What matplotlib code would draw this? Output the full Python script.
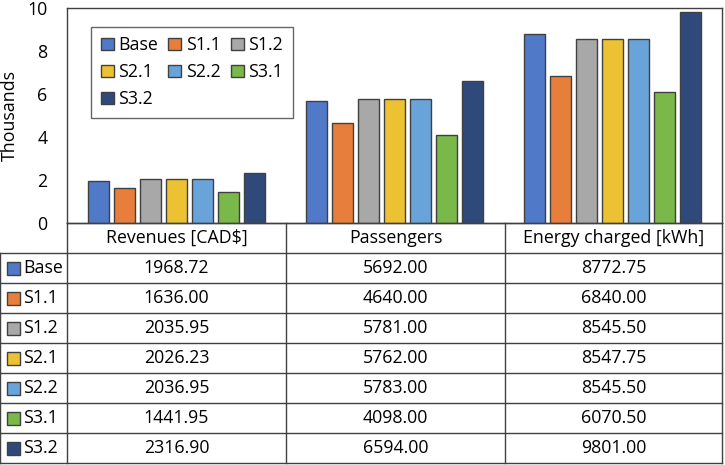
import numpy as np
import matplotlib.pyplot as plt
from matplotlib.patches import Patch, Rectangle

plt.rcParams['font.family'] = ['Open Sans', 'DejaVu Sans']

# Data
metrics = ['Revenues [CAD$]', 'Passengers', 'Energy charged [kWh]']
scenarios = ['Base', 'S1.1', 'S1.2', 'S2.1', 'S2.2', 'S3.1', 'S3.2']
revenues = [1968.72, 1636.00, 2035.95, 2026.23, 2036.95, 1441.95, 2316.90]
passengers = [5692.00, 4640.00, 5781.00, 5762.00, 5783.00, 4098.00, 6594.00]
energy = [8772.75, 6840.00, 8545.50, 8547.75, 8545.50, 6070.50, 9801.00]
colors = ['#5079c8', '#e87e3b', '#a8a8a8', '#ecc233', '#68a4da', '#7ab84a', '#2f4a7a']

values = np.array([revenues, passengers, energy]).T  # scenario x metric
edge = '#404040'
fs = 12.8

W, H = 725, 465
fig = plt.figure(figsize=(W / 100, H / 100), dpi=100)

# Chart area (pixel layout)
left, right, top, bottom = 67, 722, 8, 223
ax = fig.add_axes([left / W, 1 - bottom / H, (right - left) / W, (bottom - top) / H])
x = np.arange(len(metrics)) + 0.5
pitch, width = 0.119, 0.096
for i, s in enumerate(scenarios):
    ax.bar(x + (i - 3) * pitch, values[i] / 1000, width, color=colors[i],
           edgecolor=edge, linewidth=1, label=s, zorder=3)
ax.set_xlim(0, 3)
ax.set_ylim(0, 10)
ax.set_yticks(range(0, 11, 2))
ax.set_xticks([])
ax.tick_params(axis='y', length=0, labelsize=fs, pad=14)
for sp in ax.spines.values():
    sp.set_color(edge)
    sp.set_linewidth(1)
ax.set_ylabel('Thousands', fontsize=fs, labelpad=6)

# legend filled row by row like the original (matplotlib fills columns)
order = [0, 3, 6, 1, 4, 2, 5]
handles = [Patch(facecolor=colors[k], edgecolor=edge, linewidth=1) for k in order]
labels = [scenarios[k] for k in order]
leg = ax.legend(handles, labels, ncol=3, loc='upper left',
                bbox_to_anchor=(0.023, 0.955), fontsize=fs, frameon=True,
                fancybox=False, edgecolor=edge, handlelength=0.72,
                handleheight=0.72, handletextpad=0.25, columnspacing=0.6,
                borderpad=0.55, labelspacing=0.5)
leg.get_frame().set_linewidth(1)

# Data table below the chart
tab = fig.add_axes([0, 0, 1, 1])
tab.set_xlim(0, W)
tab.set_ylim(H, 0)
tab.axis('off')
cols = [0, 67, 286, 505, 722]
row_h = 30
y0 = bottom
n_rows = len(scenarios)
y_end = y0 + row_h * (n_rows + 1)
lw = 1
tab.plot([cols[1], cols[-1]], [y0, y0], color=edge, lw=lw)
for r in range(1, n_rows + 2):
    yy = y0 + r * row_h
    tab.plot([cols[0], cols[-1]], [yy, yy], color=edge, lw=lw)
tab.plot([cols[0], cols[0]], [y0 + row_h, y_end], color=edge, lw=lw)
for c in cols[1:]:
    tab.plot([c, c], [y0, y_end], color=edge, lw=lw)

for j, m in enumerate(metrics):
    cx = (cols[j + 1] + cols[j + 2]) / 2
    tab.text(cx, y0 + row_h / 2, m, ha='center', va='center', fontsize=fs)
for i, s in enumerate(scenarios):
    cy = y0 + (i + 1.5) * row_h
    tab.add_patch(Rectangle((7, cy - 6.5), 13, 13, facecolor=colors[i],
                            edgecolor=edge, lw=1))
    tab.text(23, cy, s, ha='left', va='center', fontsize=fs)
    for j in range(len(metrics)):
        cx = (cols[j + 1] + cols[j + 2]) / 2
        tab.text(cx, cy, f'{values[i, j]:.2f}', ha='center', va='center', fontsize=fs)

fig.savefig('out.png', dpi=100)
